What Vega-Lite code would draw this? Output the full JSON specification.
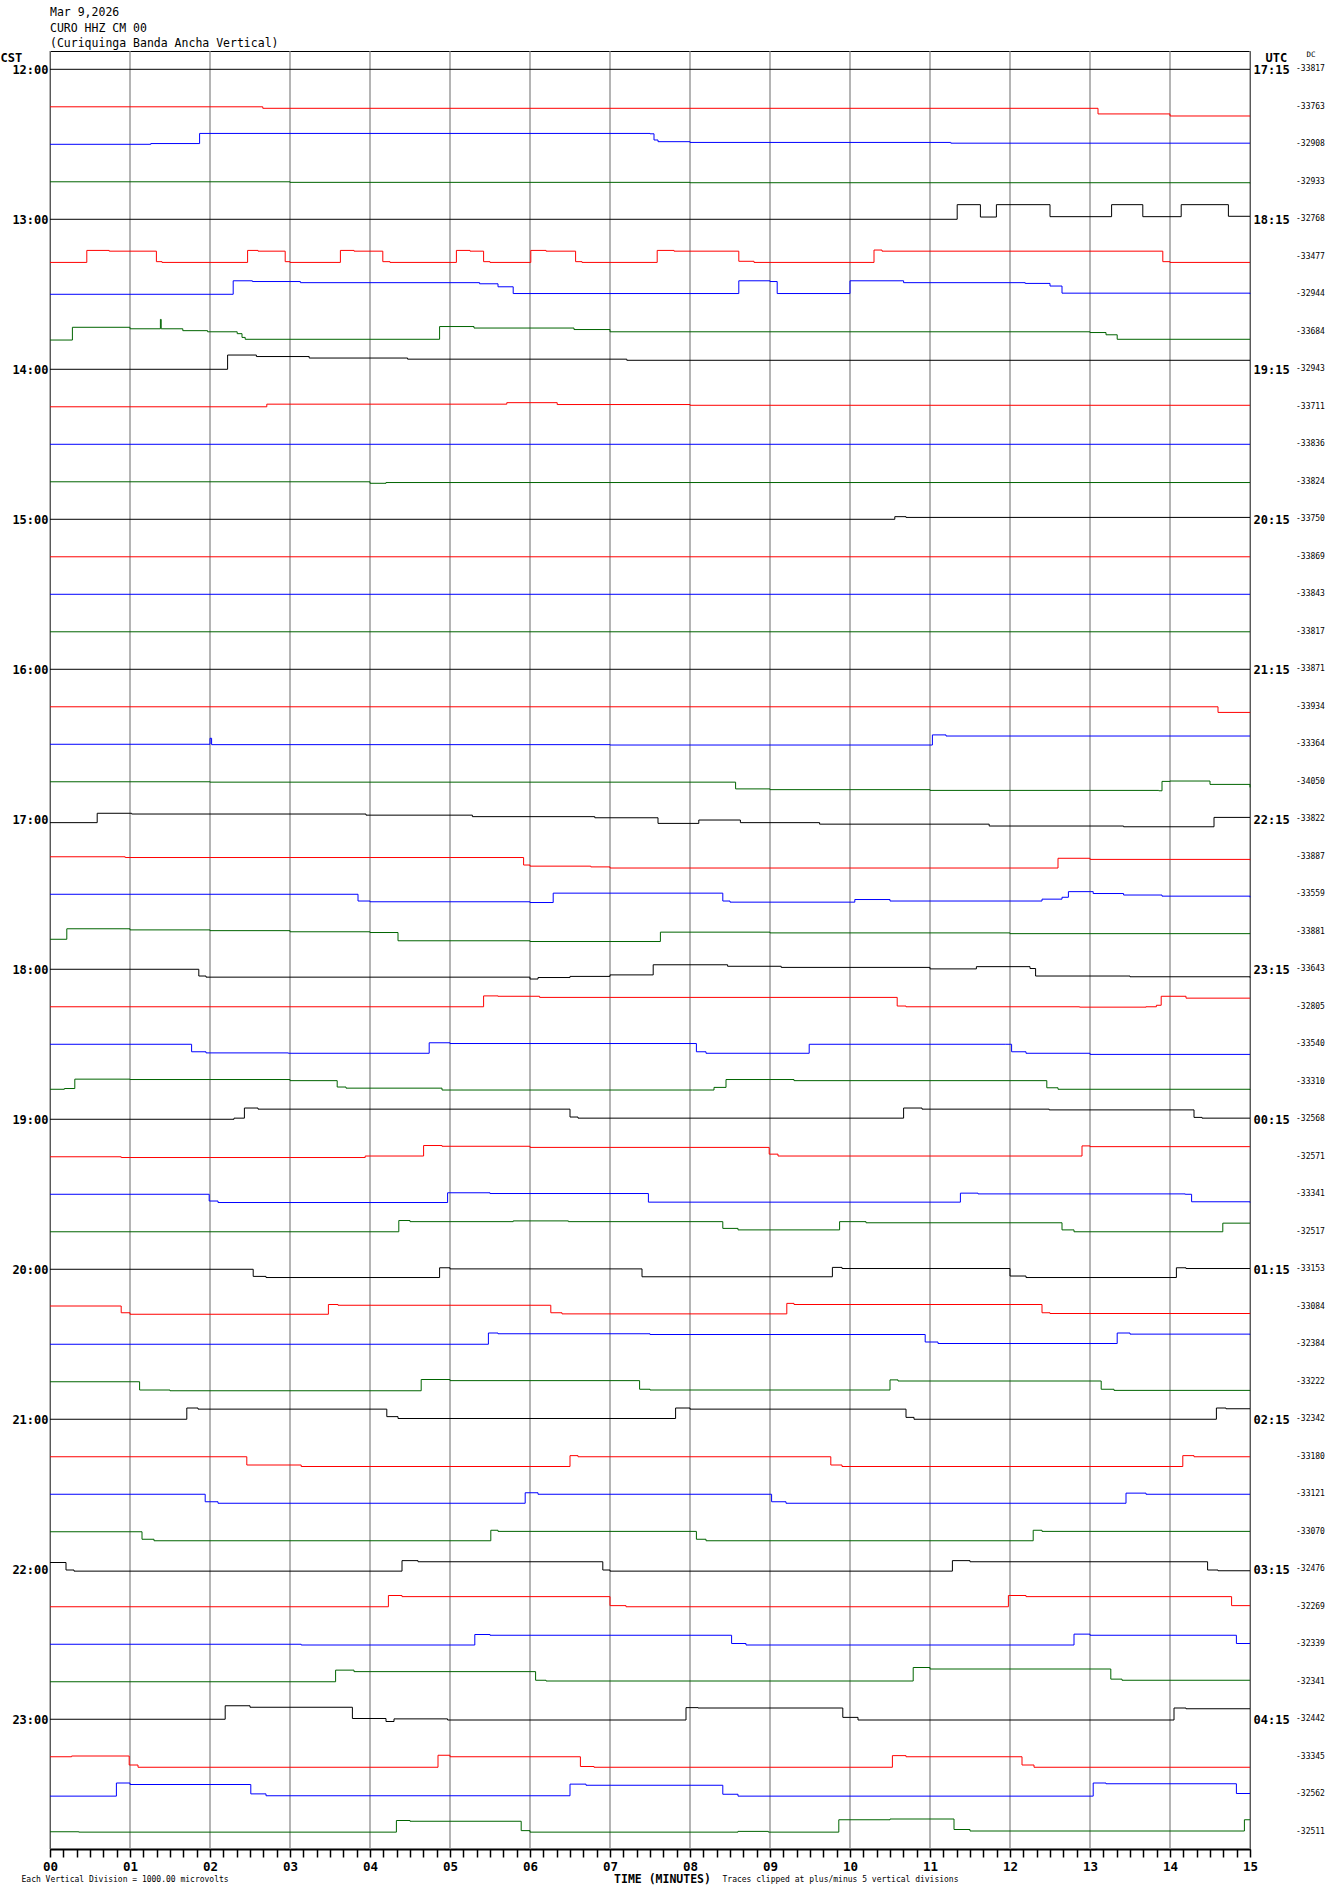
{
"$schema": "https://vega.github.io/schema/vega-lite/v6.json",
"width": 1200, "height": 1798,
"autosize": {"type": "none"},
"padding": {"left": 50, "top": 51, "right": 80, "bottom": 45},
"background": "white",
"view": {"stroke": "black", "strokeWidth": 1},
"config": {"axis": {"grid": false}},
"title": {"text": ["Mar 9,2026", "CURO HHZ CM 00", "(Curiquinga Banda Ancha Vertical)"], "anchor": "start", "frame": "group", "font": "DejaVu Sans Mono", "fontSize": 11.5, "fontWeight": "normal", "lineHeight": 15.5, "offset": 0.5, "color": "black"},
"datasets": {
"minutes": [{"t":0},{"t":1},{"t":2},{"t":3},{"t":4},{"t":5},{"t":6},{"t":7},{"t":8},{"t":9},{"t":10},{"t":11},{"t":12},{"t":13},{"t":14},{"t":15}],
"labels": [{"r":0,"dc":"-33817"},{"r":1,"dc":"-33763"},{"r":2,"dc":"-32908"},{"r":3,"dc":"-32933"},{"r":4,"dc":"-32768"},{"r":5,"dc":"-33477"},{"r":6,"dc":"-32944"},{"r":7,"dc":"-33684"},{"r":8,"dc":"-32943"},{"r":9,"dc":"-33711"},{"r":10,"dc":"-33836"},{"r":11,"dc":"-33824"},{"r":12,"dc":"-33750"},{"r":13,"dc":"-33869"},{"r":14,"dc":"-33843"},{"r":15,"dc":"-33817"},{"r":16,"dc":"-33871"},{"r":17,"dc":"-33934"},{"r":18,"dc":"-33364"},{"r":19,"dc":"-34050"},{"r":20,"dc":"-33822"},{"r":21,"dc":"-33887"},{"r":22,"dc":"-33559"},{"r":23,"dc":"-33881"},{"r":24,"dc":"-33643"},{"r":25,"dc":"-32805"},{"r":26,"dc":"-33540"},{"r":27,"dc":"-33310"},{"r":28,"dc":"-32568"},{"r":29,"dc":"-32571"},{"r":30,"dc":"-33341"},{"r":31,"dc":"-32517"},{"r":32,"dc":"-33153"},{"r":33,"dc":"-33084"},{"r":34,"dc":"-32384"},{"r":35,"dc":"-33222"},{"r":36,"dc":"-32342"},{"r":37,"dc":"-33180"},{"r":38,"dc":"-33121"},{"r":39,"dc":"-33070"},{"r":40,"dc":"-32476"},{"r":41,"dc":"-32269"},{"r":42,"dc":"-32339"},{"r":43,"dc":"-32341"},{"r":44,"dc":"-32442"},{"r":45,"dc":"-33345"},{"r":46,"dc":"-32562"},{"r":47,"dc":"-32511"}],
"traces": [
{"r":0,"t":0,"y":0},{"r":0,"t":15,"y":0},
{"r":1,"t":0,"y":1.0},{"r":1,"t":2.66,"y":1.04},{"r":1,"t":13.1,"y":1.19},{"r":1,"t":14,"y":1.245},{"r":1,"t":15,"y":1.25},
{"r":2,"t":0,"y":2.0},{"r":2,"t":1.26,"y":1.98},{"r":2,"t":1.87,"y":1.71},{"r":2,"t":7.5,"y":1.72},{"r":2,"t":7.55,"y":1.885},{"r":2,"t":7.6,"y":1.93},{"r":2,"t":8.0,"y":1.95},{"r":2,"t":11.26,"y":1.97},{"r":2,"t":15,"y":1.97},
{"r":3,"t":0,"y":3.0},{"r":3,"t":3.0,"y":3.015},{"r":3,"t":8,"y":3.025},{"r":3,"t":15,"y":3.04},
{"r":4,"t":0,"y":4.0},{"r":4,"t":8.05,"y":4.0},{"r":4,"t":11.34,"y":3.61},{"r":4,"t":11.63,"y":3.94},{"r":4,"t":11.83,"y":3.61},{"r":4,"t":12.5,"y":3.93},{"r":4,"t":13.27,"y":3.61},{"r":4,"t":13.66,"y":3.93},{"r":4,"t":14.14,"y":3.61},{"r":4,"t":14.73,"y":3.92},{"r":4,"t":15,"y":3.92},
{"r":5,"t":0,"y":5.15},{"r":5,"t":0.46,"y":4.83},{"r":5,"t":0.74,"y":4.85},{"r":5,"t":1.33,"y":5.13},{"r":5,"t":1.4,"y":5.15},{"r":5,"t":2.47,"y":4.83},{"r":5,"t":2.6,"y":4.85},{"r":5,"t":2.94,"y":5.13},{"r":5,"t":3.0,"y":5.15},{"r":5,"t":3.63,"y":4.83},{"r":5,"t":3.8,"y":4.85},{"r":5,"t":4.16,"y":5.13},{"r":5,"t":4.25,"y":5.15},{"r":5,"t":5.08,"y":4.83},{"r":5,"t":5.25,"y":4.85},{"r":5,"t":5.42,"y":5.13},{"r":5,"t":5.5,"y":5.15},{"r":5,"t":6.01,"y":4.83},{"r":5,"t":6.2,"y":4.85},{"r":5,"t":6.57,"y":5.13},{"r":5,"t":6.65,"y":5.15},{"r":5,"t":7.59,"y":4.83},{"r":5,"t":7.8,"y":4.85},{"r":5,"t":8.61,"y":5.12},{"r":5,"t":8.8,"y":5.15},{"r":5,"t":10.3,"y":4.82},{"r":5,"t":10.4,"y":4.85},{"r":5,"t":13.91,"y":5.13},{"r":5,"t":14.0,"y":5.15},{"r":5,"t":15,"y":5.15},
{"r":6,"t":0,"y":6.0},{"r":6,"t":2.29,"y":5.64},{"r":6,"t":2.53,"y":5.66},{"r":6,"t":3.13,"y":5.69},{"r":6,"t":5.37,"y":5.72},{"r":6,"t":5.6,"y":5.8},{"r":6,"t":5.79,"y":5.98},{"r":6,"t":8.61,"y":5.64},{"r":6,"t":9.0,"y":5.66},{"r":6,"t":9.09,"y":5.98},{"r":6,"t":10.0,"y":5.64},{"r":6,"t":10.67,"y":5.69},{"r":6,"t":12.19,"y":5.71},{"r":6,"t":12.5,"y":5.78},{"r":6,"t":12.65,"y":5.97},{"r":6,"t":15,"y":5.99},
{"r":7,"t":0,"y":7.22},{"r":7,"t":0.28,"y":6.88},{"r":7,"t":1.0,"y":6.92},{"r":7,"t":1.38,"y":6.67},{"r":7,"t":1.39,"y":6.92},{"r":7,"t":1.66,"y":6.97},{"r":7,"t":1.97,"y":7.0},{"r":7,"t":2.34,"y":7.05},{"r":7,"t":2.4,"y":7.15},{"r":7,"t":2.44,"y":7.2},{"r":7,"t":4.87,"y":6.86},{"r":7,"t":5.3,"y":6.9},{"r":7,"t":6.55,"y":6.94},{"r":7,"t":7.0,"y":7.0},{"r":7,"t":13.0,"y":7.02},{"r":7,"t":13.2,"y":7.08},{"r":7,"t":13.34,"y":7.2},{"r":7,"t":15,"y":7.2},
{"r":8,"t":0,"y":8.0},{"r":8,"t":2.22,"y":7.62},{"r":8,"t":2.58,"y":7.66},{"r":8,"t":3.24,"y":7.7},{"r":8,"t":4.47,"y":7.73},{"r":8,"t":7.21,"y":7.76},{"r":8,"t":15,"y":7.76},
{"r":9,"t":0,"y":9.0},{"r":9,"t":2.71,"y":8.93},{"r":9,"t":5.71,"y":8.89},{"r":9,"t":6.34,"y":8.94},{"r":9,"t":8,"y":8.96},{"r":9,"t":15,"y":8.96},
{"r":10,"t":0,"y":10},{"r":10,"t":15,"y":10},
{"r":11,"t":0,"y":11.0},{"r":11,"t":4.0,"y":11.04},{"r":11,"t":4.2,"y":11.02},{"r":11,"t":15,"y":11.02},
{"r":12,"t":0,"y":12},{"r":12,"t":10.56,"y":11.93},{"r":12,"t":10.7,"y":11.95},{"r":12,"t":15,"y":11.95},
{"r":13,"t":0,"y":13},{"r":13,"t":15,"y":13},
{"r":14,"t":0,"y":14},{"r":14,"t":15,"y":14},
{"r":15,"t":0,"y":15},{"r":15,"t":15,"y":15},
{"r":16,"t":0,"y":16},{"r":16,"t":15,"y":16},
{"r":17,"t":0,"y":17},{"r":17,"t":14.6,"y":17.15},{"r":17,"t":15,"y":17.16},
{"r":18,"t":0,"y":18},{"r":18,"t":2.0,"y":17.84},{"r":18,"t":2.02,"y":18.01},{"r":18,"t":7,"y":18.02},{"r":18,"t":11.03,"y":17.75},{"r":18,"t":11.2,"y":17.78},{"r":18,"t":15,"y":17.78},
{"r":19,"t":0,"y":19},{"r":19,"t":2.0,"y":19.01},{"r":19,"t":8.57,"y":19.19},{"r":19,"t":9.0,"y":19.21},{"r":19,"t":11.0,"y":19.23},{"r":19,"t":13.86,"y":19.24},{"r":19,"t":13.9,"y":18.99},{"r":19,"t":14.0,"y":18.98},{"r":19,"t":14.5,"y":19.07},{"r":19,"t":15,"y":19.15},
{"r":20,"t":0,"y":20.09},{"r":20,"t":0.59,"y":19.84},{"r":20,"t":1.02,"y":19.86},{"r":20,"t":3.95,"y":19.89},{"r":20,"t":5.28,"y":19.93},{"r":20,"t":6.81,"y":19.96},{"r":20,"t":7.6,"y":20.11},{"r":20,"t":8.11,"y":20.02},{"r":20,"t":8.63,"y":20.09},{"r":20,"t":9.62,"y":20.13},{"r":20,"t":11.74,"y":20.18},{"r":20,"t":13.42,"y":20.2},{"r":20,"t":14.55,"y":19.95},{"r":20,"t":15,"y":19.95},
{"r":21,"t":0,"y":21.0},{"r":21,"t":0.94,"y":21.02},{"r":21,"t":5.92,"y":21.22},{"r":21,"t":6.0,"y":21.25},{"r":21,"t":6.76,"y":21.27},{"r":21,"t":7.0,"y":21.3},{"r":21,"t":12.6,"y":21.04},{"r":21,"t":13.0,"y":21.07},{"r":21,"t":15,"y":21.09},
{"r":22,"t":0,"y":22.0},{"r":22,"t":3.85,"y":22.18},{"r":22,"t":4.0,"y":22.2},{"r":22,"t":6.0,"y":22.22},{"r":22,"t":6.29,"y":21.97},{"r":22,"t":8.41,"y":22.18},{"r":22,"t":8.5,"y":22.21},{"r":22,"t":10.06,"y":22.14},{"r":22,"t":10.5,"y":22.18},{"r":22,"t":12.4,"y":22.13},{"r":22,"t":12.65,"y":22.08},{"r":22,"t":12.73,"y":21.93},{"r":22,"t":13.04,"y":21.98},{"r":22,"t":13.42,"y":22.02},{"r":22,"t":13.9,"y":22.05},{"r":22,"t":15,"y":22.08},
{"r":23,"t":0,"y":23.2},{"r":23,"t":0.21,"y":22.92},{"r":23,"t":1.0,"y":22.95},{"r":23,"t":2.0,"y":22.97},{"r":23,"t":3.0,"y":23.0},{"r":23,"t":4.0,"y":23.02},{"r":23,"t":4.35,"y":23.24},{"r":23,"t":6.0,"y":23.26},{"r":23,"t":7.63,"y":23.01},{"r":23,"t":9,"y":23.03},{"r":23,"t":12,"y":23.05},{"r":23,"t":15,"y":23.06},
{"r":24,"t":0,"y":24.0},{"r":24,"t":1.86,"y":24.18},{"r":24,"t":1.95,"y":24.21},{"r":24,"t":6.0,"y":24.26},{"r":24,"t":6.1,"y":24.22},{"r":24,"t":6.5,"y":24.19},{"r":24,"t":7.0,"y":24.15},{"r":24,"t":7.54,"y":23.88},{"r":24,"t":8.47,"y":23.92},{"r":24,"t":9.14,"y":23.95},{"r":24,"t":11.0,"y":23.99},{"r":24,"t":11.58,"y":23.93},{"r":24,"t":12.25,"y":23.98},{"r":24,"t":12.32,"y":24.18},{"r":24,"t":13.5,"y":24.2},{"r":24,"t":15,"y":24.22},
{"r":25,"t":0,"y":25.0},{"r":25,"t":5.42,"y":24.71},{"r":25,"t":5.6,"y":24.72},{"r":25,"t":6.12,"y":24.75},{"r":25,"t":10.59,"y":24.98},{"r":25,"t":10.7,"y":25.0},{"r":25,"t":12.87,"y":25.01},{"r":25,"t":13.7,"y":25.0},{"r":25,"t":13.83,"y":24.96},{"r":25,"t":13.89,"y":24.72},{"r":25,"t":14.2,"y":24.77},{"r":25,"t":15,"y":24.77},
{"r":26,"t":0,"y":26.0},{"r":26,"t":1.77,"y":26.2},{"r":26,"t":1.95,"y":26.23},{"r":26,"t":2.98,"y":26.24},{"r":26,"t":4.74,"y":25.96},{"r":26,"t":5.0,"y":25.98},{"r":26,"t":8.08,"y":26.2},{"r":26,"t":8.2,"y":26.24},{"r":26,"t":9.49,"y":26.0},{"r":26,"t":11.94,"y":26.0},{"r":26,"t":12.02,"y":26.2},{"r":26,"t":12.2,"y":26.24},{"r":26,"t":13.0,"y":26.27},{"r":26,"t":15,"y":26.27},
{"r":27,"t":0,"y":27.2},{"r":27,"t":0.18,"y":27.18},{"r":27,"t":0.31,"y":26.93},{"r":27,"t":1.0,"y":26.94},{"r":27,"t":3.0,"y":26.97},{"r":27,"t":3.59,"y":27.14},{"r":27,"t":3.7,"y":27.17},{"r":27,"t":4.9,"y":27.22},{"r":27,"t":8.03,"y":27.22},{"r":27,"t":8.3,"y":27.15},{"r":27,"t":8.45,"y":26.94},{"r":27,"t":9.3,"y":26.97},{"r":27,"t":12.46,"y":27.16},{"r":27,"t":12.6,"y":27.2},{"r":27,"t":15,"y":27.22},
{"r":28,"t":0,"y":28.0},{"r":28,"t":2.3,"y":27.97},{"r":28,"t":2.43,"y":27.7},{"r":28,"t":2.6,"y":27.73},{"r":28,"t":6.5,"y":27.94},{"r":28,"t":6.6,"y":27.97},{"r":28,"t":10.67,"y":27.7},{"r":28,"t":10.9,"y":27.73},{"r":28,"t":12.49,"y":27.75},{"r":28,"t":14.3,"y":27.95},{"r":28,"t":14.4,"y":27.97},{"r":28,"t":15,"y":27.97},
{"r":29,"t":0,"y":29.0},{"r":29,"t":0.89,"y":29.02},{"r":29,"t":3.94,"y":28.98},{"r":29,"t":4.67,"y":28.7},{"r":29,"t":4.9,"y":28.72},{"r":29,"t":6.0,"y":28.75},{"r":29,"t":8.99,"y":28.93},{"r":29,"t":9.1,"y":28.98},{"r":29,"t":12.9,"y":28.71},{"r":29,"t":13.0,"y":28.73},{"r":29,"t":15,"y":28.73},
{"r":30,"t":0,"y":30.0},{"r":30,"t":1.99,"y":30.18},{"r":30,"t":2.1,"y":30.22},{"r":30,"t":4.97,"y":29.96},{"r":30,"t":5.5,"y":29.98},{"r":30,"t":7.48,"y":30.21},{"r":30,"t":11.38,"y":29.97},{"r":30,"t":11.6,"y":29.99},{"r":30,"t":14.19,"y":30.0},{"r":30,"t":14.27,"y":30.2},{"r":30,"t":15,"y":30.22},
{"r":31,"t":0,"y":31.0},{"r":31,"t":4.36,"y":30.7},{"r":31,"t":4.5,"y":30.73},{"r":31,"t":5.79,"y":30.71},{"r":31,"t":6.48,"y":30.73},{"r":31,"t":8.41,"y":30.91},{"r":31,"t":8.6,"y":30.95},{"r":31,"t":9.87,"y":30.73},{"r":31,"t":10.2,"y":30.76},{"r":31,"t":12.65,"y":30.95},{"r":31,"t":12.8,"y":31.0},{"r":31,"t":14.66,"y":30.77},{"r":31,"t":15,"y":30.77},
{"r":32,"t":0,"y":32.0},{"r":32,"t":2.54,"y":32.19},{"r":32,"t":2.7,"y":32.22},{"r":32,"t":4.87,"y":31.96},{"r":32,"t":5.0,"y":31.99},{"r":32,"t":7.4,"y":32.2},{"r":32,"t":9.78,"y":31.95},{"r":32,"t":9.9,"y":31.98},{"r":32,"t":12.0,"y":32.18},{"r":32,"t":12.2,"y":32.22},{"r":32,"t":14.08,"y":31.96},{"r":32,"t":14.2,"y":31.98},{"r":32,"t":15,"y":31.98},
{"r":33,"t":0,"y":32.98},{"r":33,"t":0.89,"y":33.16},{"r":33,"t":1.0,"y":33.2},{"r":33,"t":3.48,"y":32.94},{"r":33,"t":3.6,"y":32.96},{"r":33,"t":6.26,"y":33.16},{"r":33,"t":6.4,"y":33.19},{"r":33,"t":9.21,"y":32.91},{"r":33,"t":9.3,"y":32.94},{"r":33,"t":12.4,"y":33.16},{"r":33,"t":12.5,"y":33.18},{"r":33,"t":15,"y":33.19},
{"r":34,"t":0,"y":34.0},{"r":34,"t":5.48,"y":33.7},{"r":34,"t":5.6,"y":33.72},{"r":34,"t":7.5,"y":33.74},{"r":34,"t":10.94,"y":33.94},{"r":34,"t":11.1,"y":33.98},{"r":34,"t":13.34,"y":33.7},{"r":34,"t":13.5,"y":33.73},{"r":34,"t":15,"y":33.74},
{"r":35,"t":0,"y":35.0},{"r":35,"t":1.12,"y":35.22},{"r":35,"t":1.5,"y":35.24},{"r":35,"t":4.64,"y":34.94},{"r":35,"t":5.0,"y":34.97},{"r":35,"t":7.37,"y":35.2},{"r":35,"t":7.5,"y":35.22},{"r":35,"t":10.5,"y":34.95},{"r":35,"t":10.6,"y":34.98},{"r":35,"t":13.14,"y":35.2},{"r":35,"t":13.3,"y":35.23},{"r":35,"t":15,"y":35.24},
{"r":36,"t":0,"y":36.0},{"r":36,"t":1.71,"y":35.7},{"r":36,"t":1.85,"y":35.73},{"r":36,"t":4.21,"y":35.93},{"r":36,"t":4.35,"y":35.98},{"r":36,"t":7.82,"y":35.7},{"r":36,"t":8.0,"y":35.73},{"r":36,"t":10.7,"y":35.95},{"r":36,"t":10.8,"y":36.0},{"r":36,"t":14.58,"y":35.7},{"r":36,"t":14.7,"y":35.72},{"r":36,"t":15,"y":35.72},
{"r":37,"t":0,"y":37.0},{"r":37,"t":2.46,"y":37.22},{"r":37,"t":3.14,"y":37.26},{"r":37,"t":6.5,"y":36.97},{"r":37,"t":6.6,"y":37.0},{"r":37,"t":9.76,"y":37.22},{"r":37,"t":9.9,"y":37.26},{"r":37,"t":14.16,"y":36.97},{"r":37,"t":14.3,"y":37.0},{"r":37,"t":15,"y":37.0},
{"r":38,"t":0,"y":38.0},{"r":38,"t":1.94,"y":38.2},{"r":38,"t":2.1,"y":38.24},{"r":38,"t":5.94,"y":37.96},{"r":38,"t":6.1,"y":38.0},{"r":38,"t":9.02,"y":38.2},{"r":38,"t":9.2,"y":38.24},{"r":38,"t":13.45,"y":37.97},{"r":38,"t":13.7,"y":38.0},{"r":38,"t":15,"y":38.0},
{"r":39,"t":0,"y":39.0},{"r":39,"t":1.15,"y":39.2},{"r":39,"t":1.3,"y":39.24},{"r":39,"t":5.51,"y":38.96},{"r":39,"t":5.6,"y":38.99},{"r":39,"t":8.08,"y":39.2},{"r":39,"t":8.2,"y":39.24},{"r":39,"t":12.29,"y":38.96},{"r":39,"t":12.4,"y":38.99},{"r":39,"t":15,"y":38.99},
{"r":40,"t":0,"y":39.82},{"r":40,"t":0.2,"y":40.02},{"r":40,"t":0.3,"y":40.05},{"r":40,"t":4.4,"y":39.77},{"r":40,"t":4.6,"y":39.8},{"r":40,"t":6.91,"y":40.02},{"r":40,"t":7.0,"y":40.05},{"r":40,"t":11.28,"y":39.77},{"r":40,"t":11.5,"y":39.8},{"r":40,"t":14.47,"y":40.02},{"r":40,"t":14.6,"y":40.04},{"r":40,"t":15,"y":40.04},
{"r":41,"t":0,"y":41.0},{"r":41,"t":4.23,"y":40.7},{"r":41,"t":4.4,"y":40.73},{"r":41,"t":7.0,"y":40.97},{"r":41,"t":7.2,"y":41.0},{"r":41,"t":11.98,"y":40.7},{"r":41,"t":12.2,"y":40.73},{"r":41,"t":14.77,"y":40.97},{"r":41,"t":15,"y":40.97},
{"r":42,"t":0,"y":42.0},{"r":42,"t":3.14,"y":42.02},{"r":42,"t":5.31,"y":41.74},{"r":42,"t":5.5,"y":41.76},{"r":42,"t":8.52,"y":41.98},{"r":42,"t":8.7,"y":42.02},{"r":42,"t":12.8,"y":41.73},{"r":42,"t":13.0,"y":41.76},{"r":42,"t":14.83,"y":41.98},{"r":42,"t":15,"y":41.98},
{"r":43,"t":0,"y":43.0},{"r":43,"t":3.57,"y":42.69},{"r":43,"t":3.8,"y":42.73},{"r":43,"t":6.07,"y":42.96},{"r":43,"t":6.2,"y":42.98},{"r":43,"t":10.79,"y":42.62},{"r":43,"t":11.0,"y":42.66},{"r":43,"t":13.26,"y":42.93},{"r":43,"t":13.4,"y":42.96},{"r":43,"t":15,"y":42.96},
{"r":44,"t":0,"y":44.0},{"r":44,"t":2.19,"y":43.64},{"r":44,"t":2.5,"y":43.68},{"r":44,"t":3.78,"y":43.98},{"r":44,"t":4.2,"y":44.06},{"r":44,"t":4.3,"y":43.99},{"r":44,"t":4.97,"y":44.02},{"r":44,"t":7.95,"y":43.69},{"r":44,"t":8.1,"y":43.7},{"r":44,"t":9.91,"y":43.95},{"r":44,"t":10.1,"y":44.02},{"r":44,"t":14.05,"y":43.7},{"r":44,"t":14.2,"y":43.72},{"r":44,"t":15,"y":43.72},
{"r":45,"t":0,"y":45.0},{"r":45,"t":0.27,"y":44.98},{"r":45,"t":0.99,"y":45.22},{"r":45,"t":1.1,"y":45.28},{"r":45,"t":4.85,"y":44.96},{"r":45,"t":5.0,"y":45.0},{"r":45,"t":6.63,"y":45.26},{"r":45,"t":6.8,"y":45.28},{"r":45,"t":10.53,"y":44.97},{"r":45,"t":10.7,"y":45.0},{"r":45,"t":12.15,"y":45.22},{"r":45,"t":12.3,"y":45.28},{"r":45,"t":15,"y":45.28},
{"r":46,"t":0,"y":46.05},{"r":46,"t":0.83,"y":45.7},{"r":46,"t":1.0,"y":45.74},{"r":46,"t":2.51,"y":45.99},{"r":46,"t":2.7,"y":46.04},{"r":46,"t":6.5,"y":45.73},{"r":46,"t":6.7,"y":45.76},{"r":46,"t":8.41,"y":46.0},{"r":46,"t":8.6,"y":46.05},{"r":46,"t":13.04,"y":45.7},{"r":46,"t":13.2,"y":45.72},{"r":46,"t":14.83,"y":45.98},{"r":46,"t":15,"y":45.98},
{"r":47,"t":0,"y":47.0},{"r":47,"t":0.36,"y":47.01},{"r":47,"t":4.33,"y":46.7},{"r":47,"t":4.5,"y":46.72},{"r":47,"t":5.89,"y":46.97},{"r":47,"t":6.0,"y":47.01},{"r":47,"t":8.6,"y":46.99},{"r":47,"t":8.98,"y":47.01},{"r":47,"t":9.86,"y":46.68},{"r":47,"t":10.5,"y":46.66},{"r":47,"t":11.3,"y":46.94},{"r":47,"t":11.5,"y":46.98},{"r":47,"t":14.93,"y":46.68},{"r":47,"t":15,"y":46.68}
]
},
"resolve": {"axis": {"x": "independent", "y": "independent"}},
"layer": [
{
"data": {"name": "minutes"},
"mark": {"type": "rule", "color": "#8c8c8c", "strokeWidth": 1.3},
"encoding": {
"x": {"field": "t", "type": "quantitative", "scale": {"domain": [0, 15], "nice": false, "zero": false},
"axis": {"orient": "bottom", "values": [0,0.1667,0.3333,0.5,0.6667,0.8333,1,1.1667,1.3333,1.5,1.6667,1.8333,2,2.1667,2.3333,2.5,2.6667,2.8333,3,3.1667,3.3333,3.5,3.6667,3.8333,4,4.1667,4.3333,4.5,4.6667,4.8333,5,5.1667,5.3333,5.5,5.6667,5.8333,6,6.1667,6.3333,6.5,6.6667,6.8333,7,7.1667,7.3333,7.5,7.6667,7.8333,8,8.1667,8.3333,8.5,8.6667,8.8333,9,9.1667,9.3333,9.5,9.6667,9.8333,10,10.1667,10.3333,10.5,10.6667,10.8333,11,11.1667,11.3333,11.5,11.6667,11.8333,12,12.1667,12.3333,12.5,12.6667,12.8333,13,13.1667,13.3333,13.5,13.6667,13.8333,14,14.1667,14.3333,14.5,14.6667,14.8333,15],
"labelExpr": "datum.value % 1 === 0 ? format(datum.value, '02d') : ''",
"labelOverlap": false, "labelFlush": false, "tickSize": 8, "tickColor": "black", "tickWidth": 1.5, "domainColor": "black", "domainWidth": 2,
"labelFont": "DejaVu Sans Mono", "labelFontSize": 12.5, "labelFontWeight": "bold", "labelColor": "black", "labelPadding": 3,
"title": "TIME (MINUTES)", "titleFont": "DejaVu Sans Mono", "titleFontSize": 11.5, "titleFontWeight": "bold", "titleX": 612, "titleY": 30, "titleBaseline": "middle", "titleAlign": "center", "titleColor": "black"}}
}
},
{
"data": {"name": "traces"},
"mark": {"type": "line", "interpolate": "step-after", "strokeWidth": 1},
"encoding": {
"x": {"field": "t", "type": "quantitative",
"axis": {"orient": "bottom", "labels": false, "ticks": false, "domain": false, "title": "Each Vertical Division = 1000.00 microvolts", "titleFont": "DejaVu Sans Mono", "titleFontSize": 8, "titleFontWeight": "normal", "titleX": -29, "titleY": 30, "titleAlign": "left", "titleBaseline": "middle", "titleColor": "black"}},
"y": {"field": "y", "type": "quantitative", "scale": {"domain": [-0.488, 47.46], "reverse": true, "nice": false, "zero": false},
"axis": {"orient": "left", "values": [0,4,8,12,16,20,24,28,32,36,40,44], "labelExpr": "format(12 + datum.value / 4, '02d') + ':00'", "domain": false, "ticks": false, "labelFont": "DejaVu Sans Mono", "labelFontWeight": "bold", "labelFontSize": 12, "labelPadding": 2, "labelColor": "black",
"title": "CST", "titleAngle": 0, "titleX": -50, "titleY": 6, "titleAlign": "left", "titleBaseline": "middle", "titleFont": "DejaVu Sans Mono", "titleFontSize": 12, "titleFontWeight": "bold", "titleColor": "black"}},
"color": {"field": "r", "type": "nominal", "scale": {"type": "ordinal", "range": ["#000000", "#ff0000", "#0000ff", "#006400"]}, "legend": null}
}
},
{
"data": {"name": "labels"},
"mark": {"type": "text", "align": "left", "baseline": "middle", "dx": 46, "font": "DejaVu Sans Mono", "fontSize": 8, "color": "black"},
"encoding": {
"x": {"datum": 15, "type": "quantitative",
"axis": {"orient": "bottom", "labels": false, "ticks": false, "domain": false, "title": "Traces clipped at plus/minus 5 vertical divisions", "titleFont": "DejaVu Sans Mono", "titleFontSize": 8, "titleFontWeight": "normal", "titleX": 672, "titleY": 30, "titleAlign": "left", "titleBaseline": "middle", "titleColor": "black"}},
"y": {"field": "r", "type": "quantitative",
"axis": {"orient": "right", "values": [0,4,8,12,16,20,24,28,32,36,40,44], "labelExpr": "format((17 + datum.value / 4) % 24, '02d') + ':15'", "domain": false, "ticks": false, "labelFont": "DejaVu Sans Mono", "labelFontWeight": "bold", "labelFontSize": 12, "labelPadding": 3, "labelColor": "black",
"title": "UTC", "titleAngle": 0, "titleX": 15, "titleY": 6, "titleAlign": "left", "titleBaseline": "middle", "titleFont": "DejaVu Sans Mono", "titleFontSize": 12, "titleFontWeight": "bold", "titleColor": "black"}},
"text": {"field": "dc"}
}
},
{
"data": {"name": "labels"},
"mark": {"type": "rule", "opacity": 0},
"encoding": {
"y": {"field": "r", "type": "quantitative",
"axis": {"orient": "right", "labels": false, "ticks": false, "domain": false, "title": "DC", "titleAngle": 0, "titleX": 56, "titleY": 3, "titleAlign": "left", "titleBaseline": "middle", "titleFont": "DejaVu Sans Mono", "titleFontSize": 7.5, "titleFontWeight": "normal", "titleColor": "black"}}
}
}
]
}
